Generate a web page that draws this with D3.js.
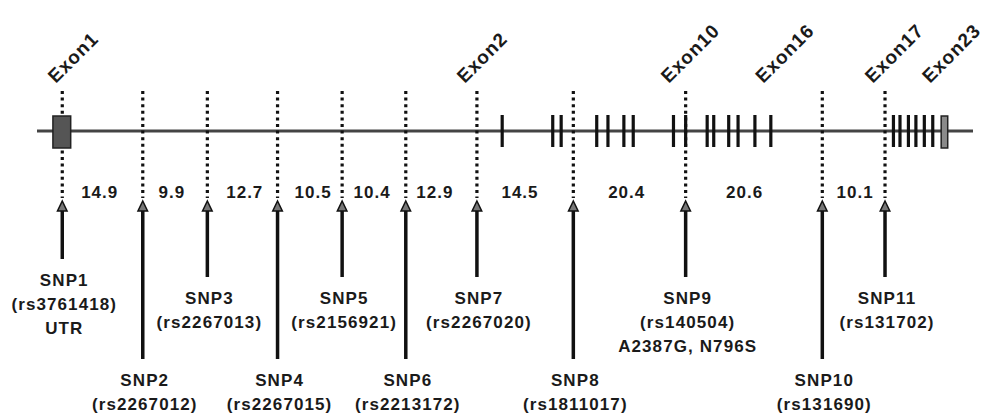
<!DOCTYPE html>
<html>
<head>
<meta charset="utf-8">
<script src="https://cdn.jsdelivr.net/npm/d3@7"></script>
<style>
  body { margin: 0; background: #fff; }
  svg text { font-family: "Liberation Sans", Arial, sans-serif; font-weight: bold; fill: #1a1a1a; }
</style>
</head>
<body>
<svg id="chart" width="992" height="414"></svg>
<script>
// map positions are in % of the drawn gene length
const snpNames = ["SNP1","SNP2","SNP3","SNP4","SNP5","SNP6","SNP7","SNP8","SNP9","SNP10","SNP11"];
const snpIds = ["rs3761418","rs2267012","rs2267013","rs2267015","rs2156921","rs2213172","rs2267020","rs1811017","rs140504","rs131690","rs131702"];
const snpNotes = ["UTR","","","","","","","","A2387G, N796S","",""];
const snpPos = [2.7,11.3,18.2,25.7,32.6,39.4,47.0,57.3,69.3,83.9,90.6];
const snpTier = ["top","low","mid","low","mid","low","mid","low","mid","low","mid"];

const gapKb = ["14.9","9.9","12.7","10.5","10.4","12.9","14.5","20.4","20.6","10.1"];
const gapPos = [6.7,14.4,22.2,29.5,35.8,42.5,51.6,63.0,75.6,87.4];

const exonTicks = [49.7,55.1,56.0,59.8,61.0,62.7,63.7,68.0,69.3,71.6,72.3,73.9,74.9,76.7,78.4,
                   91.5,92.2,93.1,93.9,94.8,95.7];
const exonBoxes = [[1.7,3.6],[96.6,97.3]];

const exonLabels = ["Exon1","Exon2","Exon10","Exon16","Exon17","Exon23"];
const exonLabelPos = [2.0,45.7,67.5,77.6,89.3,95.4];

const svg = d3.select("#chart");

const x = d3.scaleLinear().domain([0,100]).range([37,973]);
const tierY = d3.scaleOrdinal().domain(["top","mid","low"]).range([259,277,359]);

const lineY = 131;
const labelBase = 84;

// gene backbone
svg.append("line")
  .attr("x1", x(0)).attr("x2", x(100))
  .attr("y1", lineY).attr("y2", lineY)
  .attr("stroke", "#444").attr("stroke-width", 3);

// dotted SNP markers
svg.selectAll("line.dot")
  .data(snpPos)
  .join("line")
  .attr("class","dot")
  .attr("x1", d => x(d)).attr("x2", d => x(d))
  .attr("y1", 91).attr("y2", 198)
  .attr("stroke", "#111").attr("stroke-width", 3.2)
  .attr("stroke-dasharray", "3 3.6");

// exons
svg.selectAll("line.exon")
  .data(exonTicks)
  .join("line")
  .attr("class","exon")
  .attr("x1", d => x(d)).attr("x2", d => x(d))
  .attr("y1", lineY - 16).attr("y2", lineY + 16)
  .attr("stroke", "#111").attr("stroke-width", 3.2);

svg.selectAll("rect.exonbox")
  .data(exonBoxes)
  .join("rect")
  .attr("class","exonbox")
  .attr("x", d => x(d[0]))
  .attr("width", d => x(d[1]) - x(d[0]))
  .attr("y", lineY - 15).attr("height", 32)
  .attr("fill", (d,i) => i == 0 ? "#555" : "#8a8a8a")
  .attr("stroke", "#222").attr("stroke-width", 1.5);

// exon labels, tilted 45 degrees: each glyph placed along the diagonal and turned
const exonText = svg.selectAll("text.exonlab")
  .data(exonLabels)
  .join("text")
  .attr("class","exonlab")
  .style("font-size", "19px")
  .style("letter-spacing", "1px")
  .text(d => d);

exonText.each(function(d,i){
  const x0 = x(exonLabelPos[i]);
  const c = Math.SQRT1_2;
  try {
    const offs = d.split("").map((ch,k) => this.getStartPositionOfChar(k).x);
    d3.select(this)
      .attr("x", offs.map(o => (x0 + o*c).toFixed(1)).join(" "))
      .attr("y", offs.map(o => (labelBase - o*c).toFixed(1)).join(" "))
      .attr("rotate", offs.map(() => -45).join(" "));
  } catch (e) {
    d3.select(this).attr("transform", "translate(" + x0 + "," + labelBase + ") rotate(-45)");
  }
});

// distances (kb)
svg.selectAll("text.gap")
  .data(gapKb)
  .join("text")
  .attr("class","gap")
  .attr("x", (d,i) => x(gapPos[i]))
  .attr("y", 198)
  .attr("text-anchor","middle")
  .style("font-size", "17px")
  .style("letter-spacing", "1px")
  .text(d => d);

// arrows
const arrows = svg.selectAll("g.arrow")
  .data(snpPos)
  .join("g")
  .attr("class","arrow")
  .attr("transform", d => "translate(" + x(d) + ",0)");

arrows.append("line")
  .attr("x1", 0).attr("x2", 0)
  .attr("y1", 208).attr("y2", (d,i) => tierY(snpTier[i]))
  .attr("stroke", "#111").attr("stroke-width", 3.5);

arrows.append("path")
  .attr("d", "M0,201 L4.8,211 L-4.8,211 Z")
  .attr("fill", "#777").attr("stroke", "#111").attr("stroke-width", 1.5);

// SNP labels
arrows.each(function(d,i){
  const g = d3.select(this);
  const y0 = tierY(snpTier[i]) + 27;
  const lines = [snpNames[i], "(" + snpIds[i] + ")"];
  if (snpNotes[i]) lines.push(snpNotes[i]);
  g.selectAll("text")
    .data(lines)
    .join("text")
    .attr("x", 2)
    .attr("y", (t,j) => y0 + j*24)
    .attr("text-anchor","middle")
    .style("font-size", "17px")
    .style("letter-spacing", "1.1px")
    .text(t => t);
});
</script>
</body>
</html>
